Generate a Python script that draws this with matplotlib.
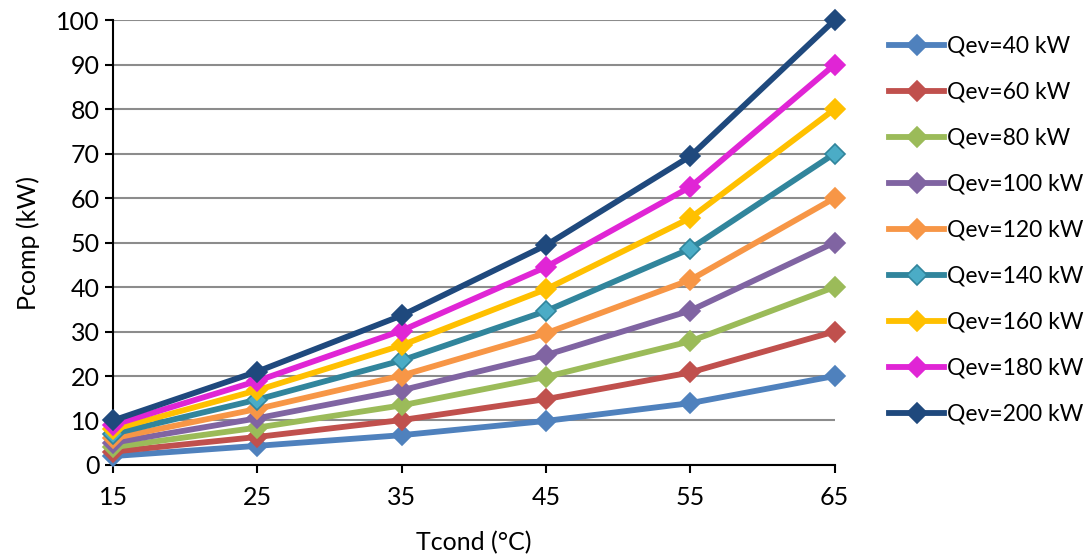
import matplotlib
matplotlib.use("Agg")
import matplotlib.pyplot as plt

# Compressor power vs condensing temperature, one curve per evaporator load
tcond = [15, 25, 35, 45, 55, 65]

qev_labels = ["Qev=40 kW", "Qev=60 kW", "Qev=80 kW", "Qev=100 kW", "Qev=120 kW",
              "Qev=140 kW", "Qev=160 kW", "Qev=180 kW", "Qev=200 kW"]

pcomp_40 = [2, 4.3, 6.7, 9.9, 13.9, 20]
pcomp_60 = [3, 6.3, 10.1, 14.8, 20.8, 30]
pcomp_80 = [4, 8.4, 13.4, 19.8, 27.8, 40]
pcomp_100 = [5, 10.5, 16.8, 24.7, 34.7, 50]
pcomp_120 = [6, 12.6, 20.1, 29.6, 41.6, 60]
pcomp_140 = [7, 14.7, 23.5, 34.6, 48.6, 70]
pcomp_160 = [8, 16.8, 26.9, 39.5, 55.5, 80]
pcomp_180 = [9, 18.9, 30.2, 44.5, 62.5, 90]
pcomp_200 = [10, 21, 33.6, 49.4, 69.4, 100]

series = [pcomp_40, pcomp_60, pcomp_80, pcomp_100, pcomp_120,
          pcomp_140, pcomp_160, pcomp_180, pcomp_200]

line_colors = ["#4F81BD", "#C0504D", "#9BBB59", "#8064A2", "#F79646",
               "#31859C", "#FFC000", "#E025D5", "#1F497D"]
marker_faces = ["#4F81BD", "#C0504D", "#9BBB59", "#8064A2", "#F79646",
                "#4BACC6", "#FFC000", "#E025D5", "#1F497D"]

plt.rcParams["font.family"] = ["Lato", "DejaVu Sans"]

fig = plt.figure(figsize=(10.91, 5.58), dpi=100)
ax = fig.add_axes([0.1036, 0.1667, 0.6614, 0.7973])

for vals, lbl, lc, mf in zip(series, qev_labels, line_colors, marker_faces):
    ax.plot(tcond, vals, color=lc, linewidth=4.2, marker="D", markersize=10.5,
            markerfacecolor=mf, markeredgecolor=lc, markeredgewidth=1.2,
            label=lbl, clip_on=False, zorder=3)

ax.set_xlim(15, 65)
ax.set_ylim(0, 100)
ax.set_xticks(tcond)
ax.set_yticks(range(0, 101, 10))
ax.yaxis.grid(True, color="#8C8C8C", linewidth=1.5)
ax.set_axisbelow(True)

for side in ["top", "right"]:
    ax.spines[side].set_visible(False)
for side in ["left", "bottom"]:
    ax.spines[side].set_linewidth(1.5)
    ax.spines[side].set_color("black")

ax.tick_params(axis="both", labelsize=18, length=6, width=1.5, direction="out")
ax.tick_params(axis="x", pad=9)

ax.set_xlabel("Tcond (°C)", fontsize=18, labelpad=16)
ax.set_ylabel("Pcomp (kW)", fontsize=18, labelpad=12)

ax.legend(loc="upper left", bbox_to_anchor=(1.063, 0.985), frameon=False,
          fontsize=16.5, handlelength=2.4, handletextpad=0.13,
          labelspacing=1.09, borderaxespad=0)

fig.savefig("out.png", dpi=100)
